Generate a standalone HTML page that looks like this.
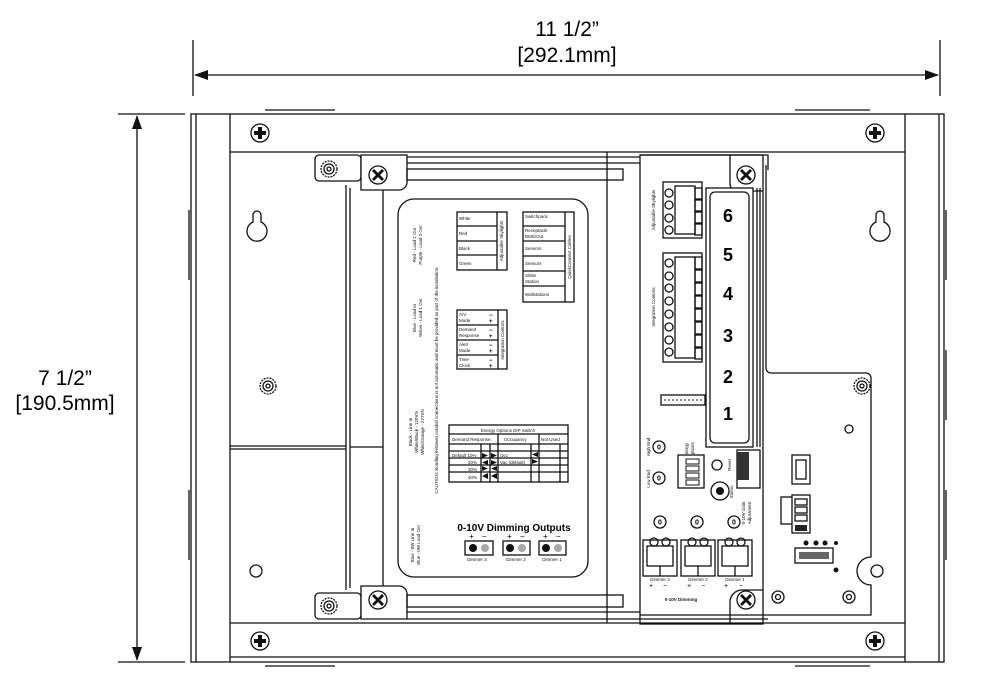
<!DOCTYPE html>
<html><head><meta charset="utf-8"><style>
body{margin:0;background:#fff}
svg{display:block;font-family:"Liberation Sans",sans-serif}
.s{fill:none;stroke:#111;stroke-width:1.3}
.w{fill:#fff;stroke:#111;stroke-width:1.3}
.t{font-size:4.5px;fill:#111}
</style></head><body>
<svg width="982" height="700" viewBox="0 0 982 700" xmlns="http://www.w3.org/2000/svg">
<defs>
<marker id="a" markerWidth="14" markerHeight="10" refX="13" refY="5" orient="auto" markerUnits="userSpaceOnUse"><path d="M0,0 L14,5 L0,10z" fill="#111"/></marker>
<g id="scr"><circle r="9" class="w" stroke-width="2"/><path d="M-2,-6h4v4h4v4h-4v4h-4v-4h-4v-4h4z" fill="#111"/></g>
<g id="scx"><circle r="9" class="w" stroke-width="2"/><path d="M-4,-6l4,4l4,-4l2,2l-4,4l4,4l-2,2l-4,-4l-4,4l-2,-2l4,-4l-4,-4z" fill="#111"/></g>
<g id="std"><circle r="8" class="w" stroke-dasharray="2 1" stroke-width="2"/><circle r="5" class="s"/><circle r="2" class="s"/></g>
<g id="pot"><circle r="6" class="w" stroke-width="1.6"/><text y="2.5" text-anchor="middle" font-size="7" font-weight="bold">0</text></g>
<g id="key"><path d="M-4,-13 a4,4 0 0 1 8,0 v7 a10,10 0 1 1 -8,0z" class="w"/></g>
</defs>
<!-- dimensions -->
<line x1="193" y1="40" x2="193" y2="96" class="s"/>
<line x1="940" y1="40" x2="940" y2="96" class="s"/>
<line x1="567" y1="75" x2="195" y2="75" class="s" marker-end="url(#a)"/>
<line x1="567" y1="75" x2="938" y2="75" class="s" marker-end="url(#a)"/>
<text x="567" y="36" font-size="21" text-anchor="middle">11 1/2”</text>
<text x="567" y="62" font-size="21" text-anchor="middle">[292.1mm]</text>
<line x1="118" y1="114" x2="185" y2="114" class="s"/>
<line x1="118" y1="662" x2="185" y2="662" class="s"/>
<line x1="137" y1="390" x2="137" y2="116" class="s" marker-end="url(#a)"/>
<line x1="137" y1="390" x2="137" y2="660" class="s" marker-end="url(#a)"/>
<text x="65" y="385" font-size="21" text-anchor="middle">7 1/2”</text>
<text x="65" y="410" font-size="21" text-anchor="middle">[190.5mm]</text>
<!-- enclosure -->
<rect x="191" y="114" width="753" height="548" class="s"/>
<line x1="196" y1="114" x2="196" y2="662" class="s"/>
<line x1="939" y1="114" x2="939" y2="662" class="s"/>
<line x1="230" y1="114" x2="230" y2="662" class="s"/>
<line x1="905" y1="114" x2="905" y2="662" class="s"/>
<line x1="230" y1="152" x2="905" y2="152" class="s"/>
<line x1="230" y1="623" x2="905" y2="623" class="s"/>
<line x1="230" y1="657" x2="905" y2="657" class="s"/>
<line x1="265" y1="110" x2="335" y2="110" class="s"/><line x1="795" y1="110" x2="870" y2="110" class="s"/>
<line x1="265" y1="666" x2="335" y2="666" class="s"/><line x1="795" y1="666" x2="870" y2="666" class="s"/>
<line x1="189" y1="210" x2="189" y2="280" class="s"/><line x1="189" y1="490" x2="189" y2="560" class="s"/>
<line x1="946" y1="210" x2="946" y2="280" class="s"/><line x1="946" y1="350" x2="946" y2="420" class="s"/><line x1="946" y1="490" x2="946" y2="560" class="s"/>
<use href="#scr" x="260" y="133"/><use href="#scr" x="875" y="133"/>
<use href="#scr" x="260" y="641"/><use href="#scr" x="875" y="641"/>
<use href="#key" x="257" y="228"/><use href="#key" x="880" y="228"/>
<use href="#std" x="268" y="386"/>
<circle cx="256" cy="571" r="6" class="s"/>
<!-- left channel -->
<line x1="346" y1="185" x2="346" y2="590" class="s"/>
<line x1="350" y1="188" x2="350" y2="588" class="s"/>
<line x1="383" y1="188" x2="383" y2="588" class="s"/>
<line x1="230" y1="446" x2="346" y2="446" class="s"/><line x1="230" y1="449" x2="346" y2="449" class="s"/>
<line x1="350" y1="447" x2="383" y2="447" class="s"/>
<line x1="607" y1="152" x2="607" y2="623" class="s"/>
<!-- top brackets -->
<rect x="315" y="155" width="46" height="26" rx="4" class="w"/><use href="#std" x="329" y="169"/>
<path d="M361,155 h46 v27 a8,8 0 0 1 -8,8 h-38z" class="w"/><use href="#scx" x="378" y="175"/>
<line x1="407" y1="157" x2="640" y2="157" class="s"/><line x1="407" y1="163" x2="640" y2="163" class="s"/>
<rect x="407" y="169" width="216" height="11" class="s"/>
<rect x="315" y="593" width="46" height="26" rx="4" class="w"/><use href="#std" x="329" y="606"/>
<path d="M361,619 h46 v-25 a8,8 0 0 0 -8,-8 h-38z" class="w"/><use href="#scx" x="378" y="600"/>
<rect x="407" y="595" width="216" height="12" class="s"/>
<line x1="407" y1="612" x2="640" y2="612" class="s"/><line x1="407" y1="619" x2="640" y2="619" class="s"/>
<!-- card -->
<rect x="398" y="199" width="190" height="378" rx="16" class="w" stroke-width="1.8"/>
<g class="t">
<text transform="translate(416,245) rotate(-90)" text-anchor="middle">Red - Load 2 Out</text>
<text transform="translate(422,245) rotate(-90)" text-anchor="middle">Purple - Load 3 Out</text>
<text transform="translate(416,318) rotate(-90)" text-anchor="middle">Blue - Load In</text>
<text transform="translate(422,318) rotate(-90)" text-anchor="middle">Yellow - Load 1 Out</text>
<text transform="translate(412,432) rotate(-90)" text-anchor="middle">Black - Line In</text>
<text transform="translate(418,432) rotate(-90)" text-anchor="middle">White/Black - 120VN</text>
<text transform="translate(424,432) rotate(-90)" text-anchor="middle">White/Orange - 277VN</text>
<text transform="translate(414,545) rotate(-90)" text-anchor="middle">Blue - 0W Line In</text>
<text transform="translate(420,545) rotate(-90)" text-anchor="middle">Blue - 0W Load Out</text>
<text transform="translate(438,380) rotate(-90)" text-anchor="middle">CAUTION: Bonding between conduit connections is not automatic and must be provided as part of the installation.</text>
</g>
<!-- table skylights -->
<g class="s" stroke-width="1"><rect x="457" y="212" width="50" height="58"/><line x1="497" y1="212" x2="497" y2="270"/>
<line x1="457" y1="226" x2="497" y2="226"/><line x1="457" y1="241" x2="497" y2="241"/><line x1="457" y1="255" x2="497" y2="255"/>
<rect x="523" y="212" width="51" height="90"/><line x1="565" y1="212" x2="565" y2="302"/>
<line x1="523" y1="226" x2="565" y2="226"/><line x1="523" y1="241" x2="565" y2="241"/><line x1="523" y1="256" x2="565" y2="256"/><line x1="523" y1="271" x2="565" y2="271"/><line x1="523" y1="286" x2="565" y2="286"/>
<rect x="457" y="310" width="50" height="59"/><line x1="498" y1="310" x2="498" y2="369"/>
<line x1="457" y1="325" x2="498" y2="325"/><line x1="457" y1="340" x2="498" y2="340"/><line x1="457" y1="355" x2="498" y2="355"/></g>
<g class="t">
<text x="459" y="220">White</text><text x="459" y="235">Red</text><text x="459" y="250">Black</text><text x="459" y="265">Green</text>
<text transform="translate(503,241) rotate(-90)" text-anchor="middle">Adjustable Skylights</text>
<text x="525" y="218">Switchpack</text><text x="525" y="232">Receptacle</text><text x="525" y="238">BMS/Out</text>
<text x="525" y="250">Sensors</text><text x="525" y="265">Sensors</text><text x="525" y="277">Slider</text><text x="525" y="283">Station</text><text x="525" y="296">Wallstations</text>
<text transform="translate(571,257) rotate(-90)" text-anchor="middle">QuickConnect Cables</text>
<text x="459" y="316">A/V</text><text x="459" y="322">Mode</text><text x="459" y="331">Demand</text><text x="459" y="337">Response</text>
<text x="459" y="346">Alert</text><text x="459" y="352">Mode</text><text x="459" y="361">Time</text><text x="459" y="367">Clock</text>
<text transform="translate(504,340) rotate(-90)" text-anchor="middle">Integration Controls</text>
</g>
<g font-size="6" font-weight="bold"><text x="489" y="317">−</text><text x="489" y="323">+</text><text x="489" y="332">−</text><text x="489" y="338">+</text><text x="489" y="347">−</text><text x="489" y="353">+</text><text x="489" y="362">−</text><text x="489" y="368">+</text></g>
<!-- DIP table -->
<g class="s" stroke-width="1"><rect x="449" y="425" width="119" height="57"/>
<line x1="449" y1="434" x2="568" y2="434"/><line x1="449" y1="444" x2="568" y2="444"/><line x1="449" y1="451" x2="568" y2="451"/>
<line x1="449" y1="458" x2="568" y2="458"/><line x1="449" y1="465" x2="568" y2="465"/><line x1="449" y1="472" x2="568" y2="472"/>
<line x1="481" y1="444" x2="481" y2="482"/><line x1="490" y1="444" x2="490" y2="482"/><line x1="498" y1="434" x2="498" y2="482"/>
<line x1="531" y1="444" x2="531" y2="482"/><line x1="539" y1="434" x2="539" y2="482"/><line x1="560" y1="444" x2="560" y2="482"/></g>
<g class="t"><text x="508" y="432" text-anchor="middle">Energy Options DIP Switch</text>
<text x="452" y="441">Demand Response</text><text x="504" y="441">Occupancy</text><text x="541" y="441">Not Used</text>
<text x="452" y="457">Default 10%</text><text x="468" y="464">20%</text><text x="468" y="471">30%</text><text x="468" y="479">40%</text>
<text x="500" y="457">Occ</text><text x="500" y="464">Vac (default)</text></g>
<g fill="#111"><path d="M482,453l6,2.5l-6,2.5z M491,453l6,2.5l-6,2.5z M488,460l-6,2.5l6,2.5z M491,460l6,2.5l-6,2.5z M482,466l6,2.5l-6,2.5z M497,466l-6,2.5l6,2.5z M488,473l-6,3l6,3z M497,473l-6,3l6,3z M538,452l-6,2.5l6,2.5z M532,459l6,2.5l-6,2.5z"/></g>
<text x="514" y="531" font-size="10" font-weight="bold" text-anchor="middle">0-10V Dimming Outputs</text>
<g font-size="8"><text x="469" y="539">+</text><text x="482" y="539">−</text><text x="507" y="539">+</text><text x="520" y="539">−</text><text x="543" y="539">+</text><text x="556" y="539">−</text></g>
<g><rect x="465" y="541" width="28" height="14" class="w"/><circle cx="473" cy="548" r="4" fill="#111"/><circle cx="485" cy="548" r="4" fill="#aaa"/>
<rect x="503" y="541" width="27" height="14" class="w"/><circle cx="510" cy="548" r="4" fill="#111"/><circle cx="522" cy="548" r="4" fill="#aaa"/>
<rect x="539" y="541" width="27" height="14" class="w"/><circle cx="546" cy="548" r="4" fill="#111"/><circle cx="558" cy="548" r="4" fill="#aaa"/></g>
<g class="t"><text x="477" y="561" text-anchor="middle">Dimmer 3</text><text x="516" y="561" text-anchor="middle">Dimmer 2</text><text x="552" y="561" text-anchor="middle">Dimmer 1</text></g>
<!-- right module -->
<path d="M640,155 H768 V170" class="s"/>
<rect x="640" y="155" width="123" height="469" class="s"/>
<path d="M766,165 V368 a5,5 0 0 0 5,5 H866 a5,5 0 0 1 5,5 V557 a14,14 0 0 0 0,28 V615 H640" class="s"/>
<line x1="640" y1="619" x2="768" y2="619" class="s"/>
<path d="M730,155 v30 a8,8 0 0 0 8,6 h25" class="s"/>
<use href="#scx" x="746" y="175"/>
<path d="M730,624 v-22 a12,12 0 0 1 12,-12 h21" class="s"/>
<use href="#scx" x="746" y="600"/>
<rect x="706" y="188" width="47" height="259" class="w"/>
<rect x="710" y="192" width="39" height="251" rx="5" class="s"/>
<line x1="757" y1="188" x2="757" y2="447" class="s"/><line x1="760" y1="188" x2="760" y2="447" class="s"/>
<g font-size="18" font-weight="bold" text-anchor="middle"><text x="728" y="222">6</text><text x="728" y="261">5</text><text x="728" y="300">4</text><text x="728" y="342">3</text><text x="728" y="383">2</text><text x="728" y="420">1</text></g>
<!-- terminal blocks -->
<rect x="663" y="182" width="39" height="56" class="w"/><rect x="675" y="186" width="20" height="48" class="s"/>
<g class="s" stroke-width="1"><circle cx="669" cy="193" r="4"/><circle cx="669" cy="205" r="4"/><circle cx="669" cy="218" r="4"/><circle cx="669" cy="230" r="4"/>
<rect x="695" y="188" width="7" height="11"/><rect x="695" y="200" width="7" height="11"/><rect x="695" y="212" width="7" height="11"/><rect x="695" y="224" width="7" height="11"/></g>
<rect x="663" y="253" width="39" height="109" class="w"/><rect x="675" y="257" width="20" height="101" class="s"/>
<g class="s" stroke-width="1"><circle cx="669" cy="263" r="4"/><circle cx="669" cy="276" r="4"/><circle cx="669" cy="288" r="4"/><circle cx="669" cy="301" r="4"/><circle cx="669" cy="314" r="4"/><circle cx="669" cy="327" r="4"/><circle cx="669" cy="340" r="4"/><circle cx="669" cy="352" r="4"/>
<rect x="695" y="257" width="7" height="12"/><rect x="695" y="270" width="7" height="12"/><rect x="695" y="283" width="7" height="12"/><rect x="695" y="296" width="7" height="12"/><rect x="695" y="309" width="7" height="12"/><rect x="695" y="322" width="7" height="12"/><rect x="695" y="335" width="7" height="12"/><rect x="695" y="348" width="7" height="11"/></g>
<g class="t"><text transform="translate(655,210) rotate(-90)" text-anchor="middle">Adjustable Skylights</text>
<text transform="translate(655,307) rotate(-90)" text-anchor="middle">Integration Controls</text></g>
<rect x="661" y="395" width="44" height="10" class="w" stroke-width="2"/><line x1="664" y1="400" x2="702" y2="400" stroke="#111" stroke-dasharray="2 2"/>
<use href="#pot" x="659" y="447"/><use href="#pot" x="659" y="478"/>
<g class="t"><text transform="translate(650,447) rotate(-90)" text-anchor="middle">High End</text><text transform="translate(650,479) rotate(-90)" text-anchor="middle">Low End</text>
<text transform="translate(688,450) rotate(-90)" text-anchor="middle">Energy</text><text transform="translate(694,450) rotate(-90)" text-anchor="middle">Options</text>
<text transform="translate(731,465) rotate(-90)" text-anchor="middle">Reset</text><text transform="translate(733,492) rotate(-90)" text-anchor="middle">Status</text>
<text transform="translate(745,513) rotate(-90)" text-anchor="middle">0-10V Gain</text><text transform="translate(751,513) rotate(-90)" text-anchor="middle">Adjustment</text></g>
<rect x="678" y="455" width="26" height="33" class="w" stroke-width="1.6"/>
<g fill="#fff" stroke="#111"><rect x="686" y="459" width="13" height="5"/><rect x="686" y="466" width="13" height="5"/><rect x="686" y="473" width="13" height="5"/><rect x="686" y="480" width="13" height="5"/></g>
<circle cx="717" cy="465" r="5" class="s" stroke-width="2"/>
<circle cx="720" cy="491" r="9" class="s"/><circle cx="720" cy="491" r="4" fill="#111"/>
<rect x="737" y="450" width="23" height="38" class="s"/>
<rect x="737" y="452" width="12" height="28" fill="#333"/>
<use href="#pot" x="660" y="522"/><use href="#pot" x="697" y="522"/><use href="#pot" x="734" y="522"/>
<g>
<rect x="643" y="540" width="34" height="36" class="w" stroke-width="2"/><rect x="647" y="546" width="26" height="20" class="s"/><circle cx="654" cy="542" r="4" class="s"/><circle cx="666" cy="542" r="4" class="s"/><line x1="660" y1="566" x2="660" y2="576" class="s"/>
<rect x="681" y="540" width="34" height="36" class="w" stroke-width="2"/><rect x="685" y="546" width="26" height="20" class="s"/><circle cx="692" cy="542" r="4" class="s"/><circle cx="704" cy="542" r="4" class="s"/><line x1="698" y1="566" x2="698" y2="576" class="s"/>
<rect x="718" y="540" width="34" height="36" class="w" stroke-width="2"/><rect x="722" y="546" width="26" height="20" class="s"/><circle cx="729" cy="542" r="4" class="s"/><circle cx="741" cy="542" r="4" class="s"/><line x1="735" y1="566" x2="735" y2="576" class="s"/>
</g>
<g class="t"><text x="660" y="581" text-anchor="middle">Dimmer 3</text><text x="698" y="581" text-anchor="middle">Dimmer 2</text><text x="735" y="581" text-anchor="middle">Dimmer 1</text>
<text x="681" y="601" text-anchor="middle" font-weight="bold">0-10V Dimming</text></g>
<g font-size="7"><text x="649" y="588">+</text><text x="663" y="588">−</text><text x="687" y="588">+</text><text x="701" y="588">−</text><text x="724" y="588">+</text><text x="739" y="588">−</text></g>
<!-- right plate parts -->
<use href="#std" x="862" y="386"/>
<circle cx="849" cy="429" r="4" class="s"/>
<circle cx="877" cy="571" r="6" class="s"/>
<circle cx="778" cy="597" r="6" class="s"/><circle cx="778" cy="597" r="2.5" class="s"/>
<circle cx="849" cy="597" r="6" class="s"/><circle cx="849" cy="597" r="2.5" class="s"/>
<rect x="792" y="455" width="18" height="29" class="s"/><rect x="796" y="460" width="10" height="19" class="s"/>
<rect x="781" y="497" width="12" height="27" class="s"/><rect x="792" y="495" width="18" height="38" class="w" stroke-width="1.6"/>
<g class="s" stroke-width="1"><rect x="795" y="499" width="12" height="6"/><rect x="795" y="507" width="12" height="6"/><rect x="795" y="515" width="12" height="6"/></g>
<rect x="795" y="525" width="12" height="6" fill="#222"/>
<g fill="#111"><circle cx="806" cy="543" r="2.5"/><circle cx="816" cy="543" r="2.5"/><circle cx="825" cy="543" r="2.5"/><circle cx="836" cy="543" r="2"/><circle cx="836" cy="570" r="2.5"/></g>
<rect x="795" y="548" width="38" height="15" class="w" stroke-width="2"/><rect x="799" y="552" width="30" height="7" fill="#666"/>
</svg>
</body></html>
